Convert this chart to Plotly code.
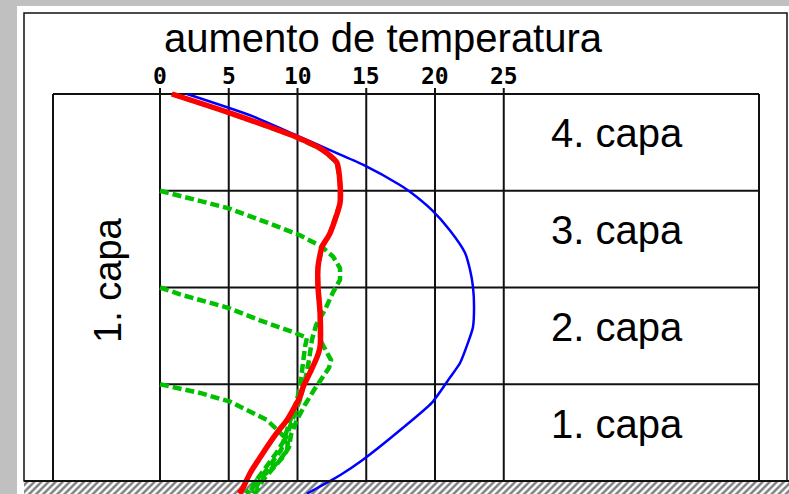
import plotly.graph_objects as go

# --- datos (aumento de temperatura vs. altura en capas) ---
ticks = [0, 5, 10, 15, 20, 25]
capas = ["1. capa", "2. capa", "3. capa", "4. capa"]

# hormigonado de una vez (azul)
azul_t = [1.96, 6.55, 9.96, 12.36, 14.76, 17.45, 18.18, 19.78, 21.09, 22.18, 22.55,
          22.76, 22.84, 22.76, 22.40, 21.82, 21.09, 19.78, 17.67, 14.76, 13.09, 10.69]
azul_h = [4.0, 3.78, 3.57, 3.42, 3.27, 3.06, 2.99, 2.80, 2.59, 2.36, 2.18,
          2.01, 1.80, 1.59, 1.43, 1.22, 1.07, 0.81, 0.55, 0.22, 0.06, -0.13]

# final tras 4 capas (rojo)
rojo_t = [0.87, 4.95, 9.82, 11.85, 12.87, 13.09, 13.09, 12.36, 11.78, 11.49, 11.49, 11.64,
          11.64, 11.42, 10.91, 10.40, 10.18, 9.24, 8.51, 7.49, 6.55, 5.96, 5.75]
rojo_h = [4.0, 3.81, 3.56, 3.42, 3.29, 3.08, 2.87, 2.56, 2.42, 2.21, 2.01, 1.74,
          1.39, 1.28, 1.12, 0.97, 0.87, 0.63, 0.50, 0.29, 0.08, -0.09, -0.13]

# perfiles intermedios (verde, discontinuo)
v1_t = [0.0, 1.67, 4.95, 8.00, 10.18, 11.78, 12.58, 13.09, 13.09, 12.58, 12.00, 11.35,
        11.05, 10.84, 10.55, 10.18, 9.67, 9.24, 8.80, 8.15, 7.42, 6.76]
v1_h = [3.00, 2.94, 2.82, 2.66, 2.54, 2.42, 2.32, 2.20, 2.08, 1.95, 1.77, 1.61,
        1.46, 1.25, 1.04, 0.84, 0.63, 0.48, 0.32, 0.19, 0.05, -0.13]

v2_t = [0.0, 1.67, 4.95, 7.27, 9.67, 10.69, 10.55, 10.40, 10.18, 9.96, 9.45, 9.16,
        8.95, 8.51, 7.85, 7.13, 6.47]
v2_h = [2.00, 1.92, 1.79, 1.66, 1.54, 1.48, 1.39, 1.18, 0.97, 0.84, 0.63, 0.51,
        0.40, 0.30, 0.17, 0.03, -0.13]

v3_t = [0.0, 1.45, 2.91, 5.09, 6.76, 7.78, 8.51, 9.31, 9.24, 8.73, 8.00, 7.05, 6.25]
v3_h = [1.00, 0.96, 0.91, 0.82, 0.70, 0.63, 0.53, 0.42, 0.32, 0.22, 0.11, 0.01, -0.13]

v4_t = [0.87, 4.95, 9.82, 11.85, 12.87, 13.09, 13.09, 12.36, 11.78, 11.49, 11.49, 11.64,
        11.64, 12.07, 12.44, 12.29, 11.78, 11.20, 10.55, 9.96, 9.53, 9.38, 8.95, 8.22,
        7.49, 6.91]
v4_h = [4.0, 3.81, 3.56, 3.42, 3.29, 3.08, 2.87, 2.56, 2.42, 2.21, 2.01, 1.74,
        1.46, 1.35, 1.25, 1.17, 1.07, 0.94, 0.79, 0.63, 0.48, 0.35, 0.25, 0.13,
        0.01, -0.13]

# --- geometría de la página (px) ---
W, H = 789, 494
X0, XS = 160.0, 13.75   # px del 0 y px por grado
YB, YS = 481.0, 96.75   # px de la base y px por capa


def dx(p):
    return (p - X0) / XS


def dy(p):
    return (YB - p) / YS


fig = go.Figure()

# suelo rayado
fig.add_trace(go.Scatter(
    x=[dx(24), dx(W + 5), dx(W + 5), dx(24)], y=[0, 0, dy(H + 5), dy(H + 5)],
    fill="toself", mode="lines", line=dict(width=0),
    fillcolor="white",
    fillpattern=dict(shape="/", size=5, solidity=0.5, fgcolor="black", bgcolor="white"),
    hoverinfo="skip"))

verde = "#00c000"
for t, h in [(v4_t, v4_h), (v1_t, v1_h), (v2_t, v2_h), (v3_t, v3_h)]:
    fig.add_trace(go.Scatter(x=t, y=h, mode="lines",
                             line=dict(color=verde, width=4.5, dash="9px,4px")))

fig.add_trace(go.Scatter(x=azul_t, y=azul_h, mode="lines",
                         line=dict(color="#0000ff", width=2.5, shape="spline", smoothing=0.6)))
fig.add_trace(go.Scatter(x=rojo_t, y=rojo_h, mode="lines",
                         line=dict(color="#ff0000", width=5.5, shape="spline", smoothing=0.6)))

negro = dict(color="#111111", width=2)
shapes = [
    # fondo blanco y marco exterior
    dict(type="rect", xref="x", yref="y", x0=dx(17), x1=dx(W + 5), y0=dy(6), y1=dy(H + 5),
         fillcolor="white", line=dict(width=0), layer="below"),
    dict(type="rect", xref="x", yref="y", x0=dx(24), x1=dx(787), y0=dy(13), y1=0,
         line=dict(color="#111111", width=1.5), layer="below"),
    # caja interior
    dict(type="line", xref="x", yref="y", x0=dx(53), x1=dx(53), y0=0, y1=4, line=negro, layer="below"),
    dict(type="line", xref="x", yref="y", x0=dx(759), x1=dx(759), y0=0, y1=4, line=negro, layer="below"),
    dict(type="line", xref="x", yref="y", x0=dx(53), x1=dx(759), y0=4, y1=4, line=negro, layer="below"),
    dict(type="line", xref="x", yref="y", x0=dx(24), x1=dx(W + 5), y0=0, y1=0, line=negro),
]
for k in [1, 2, 3]:
    shapes.append(dict(type="line", xref="x", yref="y", x0=0, x1=dx(759), y0=k, y1=k,
                       line=negro, layer="below"))
for t in ticks:
    shapes.append(dict(type="line", xref="x", yref="y", x0=t, x1=t, y0=0, y1=dy(88),
                       line=negro, layer="below"))

ann = [dict(x=dx(383), y=dy(38), text="aumento de temperatura", showarrow=False,
            font=dict(family="Liberation Sans", size=40, color="black")),
       dict(x=dx(108), y=dy(280), text="1. capa", textangle=-90, showarrow=False,
            font=dict(family="Liberation Sans", size=38, color="black"))]
for t in ticks:
    ann.append(dict(x=t, y=dy(76), text=str(t), showarrow=False,
                    font=dict(family="DejaVu Sans Mono", size=23, color="black", weight="bold")))
for i, c in enumerate(capas):
    ann.append(dict(x=dx(617), y=i + 0.5, yshift=9, text=c, showarrow=False,
                    font=dict(family="Liberation Sans", size=40, color="black")))

fig.update_layout(
    width=W, height=H, margin=dict(l=0, r=0, t=0, b=0),
    paper_bgcolor="#c0c0c0", plot_bgcolor="#c0c0c0",
    showlegend=False, shapes=shapes, annotations=ann,
    xaxis=dict(range=[dx(0), dx(W)], visible=False, fixedrange=True),
    yaxis=dict(range=[dy(H), dy(0)], visible=False, fixedrange=True),
)

fig.write_html("out.html", config={"displayModeBar": False},
               post_script="document.body.style.margin='0';document.body.style.overflow='hidden';")
